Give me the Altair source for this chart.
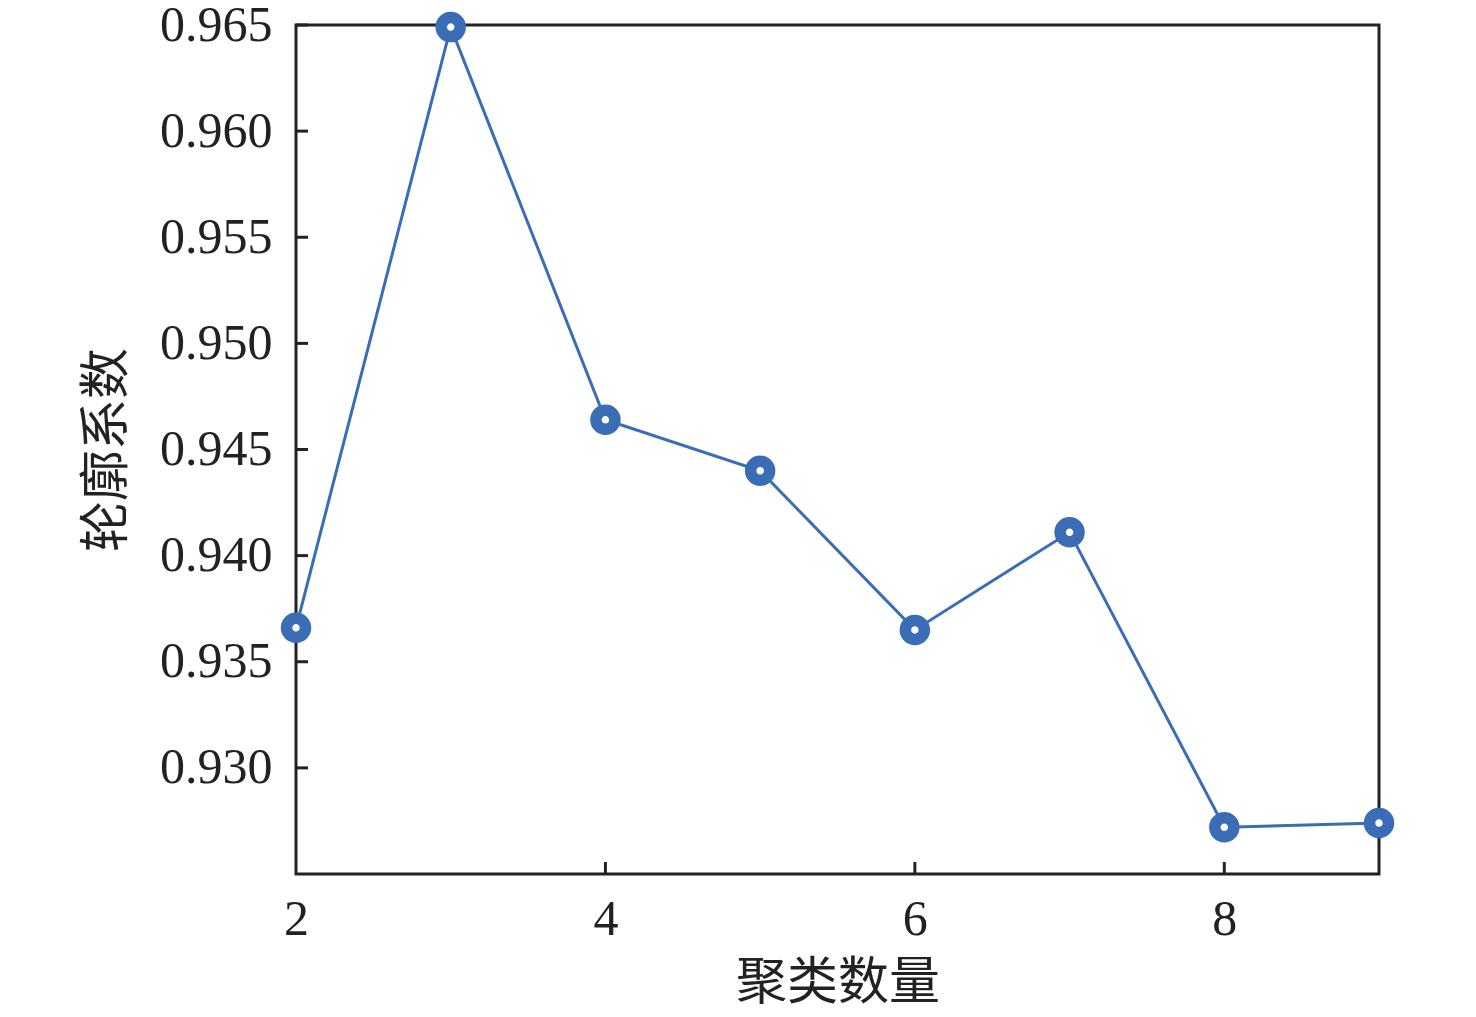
import altair as alt
import pandas as pd

k_values = [2, 3, 4, 5, 6, 7, 8, 9]
silhouette = [0.9366, 0.9649, 0.9464, 0.9440, 0.9365, 0.9411, 0.9272, 0.9274]
x_tick_values = [2, 4, 6, 8]
y_tick_values = [0.930, 0.935, 0.940, 0.945, 0.950, 0.955, 0.960, 0.965]

df = pd.DataFrame({"k": k_values, "s": silhouette})
xt = pd.DataFrame({"k": x_tick_values[1:]})
yt = pd.DataFrame({"s": y_tick_values})

W, H = 1083, 849
BLUE = "#3a6db6"
INK = "#222222"

xscale = alt.Scale(domain=[2, 9], nice=False, zero=False)
yscale = alt.Scale(domain=[0.925, 0.965], nice=False, zero=False)

x_axis = alt.Axis(values=x_tick_values, format="d", title="聚类数量", tickSize=0, domain=False,
                  grid=False, labelFlush=False, labelFont="Liberation Serif", labelFontSize=50,
                  labelColor=INK, labelPadding=20, titleFont="Noto Sans CJK SC", titleFontSize=51,
                  titleFontWeight="normal", titleColor=INK, titlePadding=14)
y_axis = alt.Axis(values=y_tick_values, format=".3f", title="轮廓系数", tickSize=0, domain=False,
                  grid=False, labelFlush=False, labelFont="Liberation Serif", labelFontSize=50,
                  labelColor=INK, labelPadding=24, titleFont="Noto Sans CJK SC", titleFontSize=51,
                  titleFontWeight="normal", titleColor=INK, titlePadding=26)

line = alt.Chart(df).mark_line(color=BLUE, strokeWidth=3).encode(
    x=alt.X("k:Q", scale=xscale, axis=x_axis),
    y=alt.Y("s:Q", scale=yscale, axis=y_axis),
)
points = alt.Chart(df).mark_point(shape="circle", size=361, filled=False, fill="white",
                                  fillOpacity=1, stroke=BLUE, strokeWidth=11.5, opacity=1).encode(
    x=alt.X("k:Q", scale=xscale),
    y=alt.Y("s:Q", scale=yscale),
)
xticks = alt.Chart(xt).mark_rule(color=INK, strokeWidth=3).encode(
    x=alt.X("k:Q", scale=xscale),
    y=alt.value(H), y2=alt.value(H - 12),
)
yticks = alt.Chart(yt).mark_rule(color=INK, strokeWidth=3).encode(
    y=alt.Y("s:Q", scale=yscale),
    x=alt.value(0), x2=alt.value(12),
)

chart = alt.layer(xticks, yticks, line, points).properties(
    width=W, height=H,
    background="white",
    autosize=alt.AutoSizeParams(type="none"),
    padding={"left": 288, "top": 17, "right": 89, "bottom": 140},
).configure_view(stroke=INK, strokeWidth=3)

chart.save("out.html", embed_options={"renderer": "svg", "actions": False})
